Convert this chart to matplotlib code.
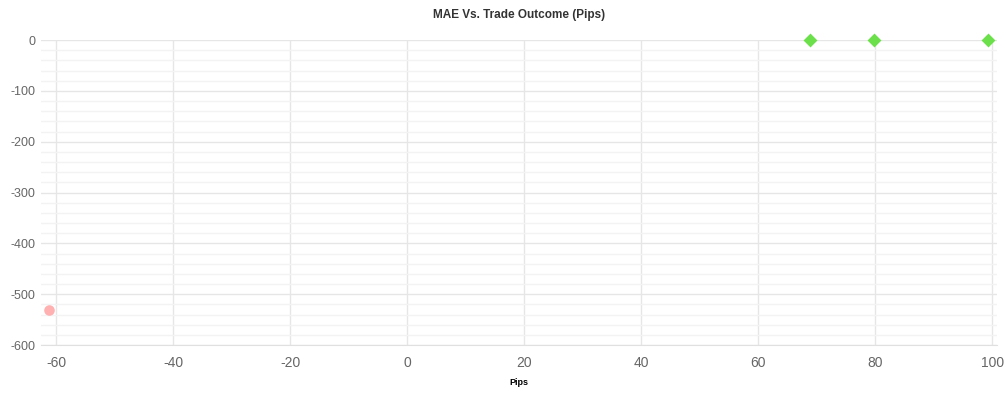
import matplotlib.pyplot as plt
from matplotlib.ticker import MultipleLocator

plt.rcParams["font.family"] = ["Liberation Sans", "DejaVu Sans"]
plt.rcParams["axes.unicode_minus"] = False

# losing trade(s): outcome pips vs MAE
loss_pips = [-61.2]
loss_mae = [-531]
# winning trades
win_pips = [68.9, 79.7, 99.3]
win_mae = [0, 0, 0]

x_ticks = [-60, -40, -20, 0, 20, 40, 60, 80, 100]
y_ticks = [0, -100, -200, -300, -400, -500, -600]

fig = plt.figure(figsize=(10.06, 4.0), dpi=100)
ax = fig.add_axes([0.0408, 0.1375, 0.9502, 0.7625])

ax.scatter(loss_pips, loss_mae, s=58, color="#ffb1b1", marker="o",
           zorder=3, linewidths=0, clip_on=False)
ax.scatter(win_pips, win_mae, s=50, color="#6be04a", marker="D",
           zorder=3, linewidths=0, clip_on=False)

ax.set_xlim(-62.6, 100.8)
ax.set_ylim(-600, 0)
ax.set_xticks(x_ticks)
ax.set_yticks(y_ticks)
ax.yaxis.set_minor_locator(MultipleLocator(20))
ax.grid(True, which="major", color="#e6e6e6", linewidth=1)
ax.grid(True, which="minor", axis="y", color="#f3f3f3", linewidth=1)
ax.set_axisbelow(True)

for side in ["top", "right", "left"]:
    ax.spines[side].set_visible(False)
ax.spines["bottom"].set_color("#e0e0e0")

ax.tick_params(axis="both", which="both", length=0, colors="#666666")
ax.tick_params(axis="x", labelsize=10, pad=8)
ax.tick_params(axis="y", labelsize=9, pad=4)
ax.set_xlabel("Pips", fontsize=6.5, fontweight="bold", labelpad=6)
ax.set_title("MAE Vs. Trade Outcome (Pips)", fontsize=8.5,
             fontweight="bold", color="#333333", pad=16)

fig.savefig("out.png", dpi=100)
